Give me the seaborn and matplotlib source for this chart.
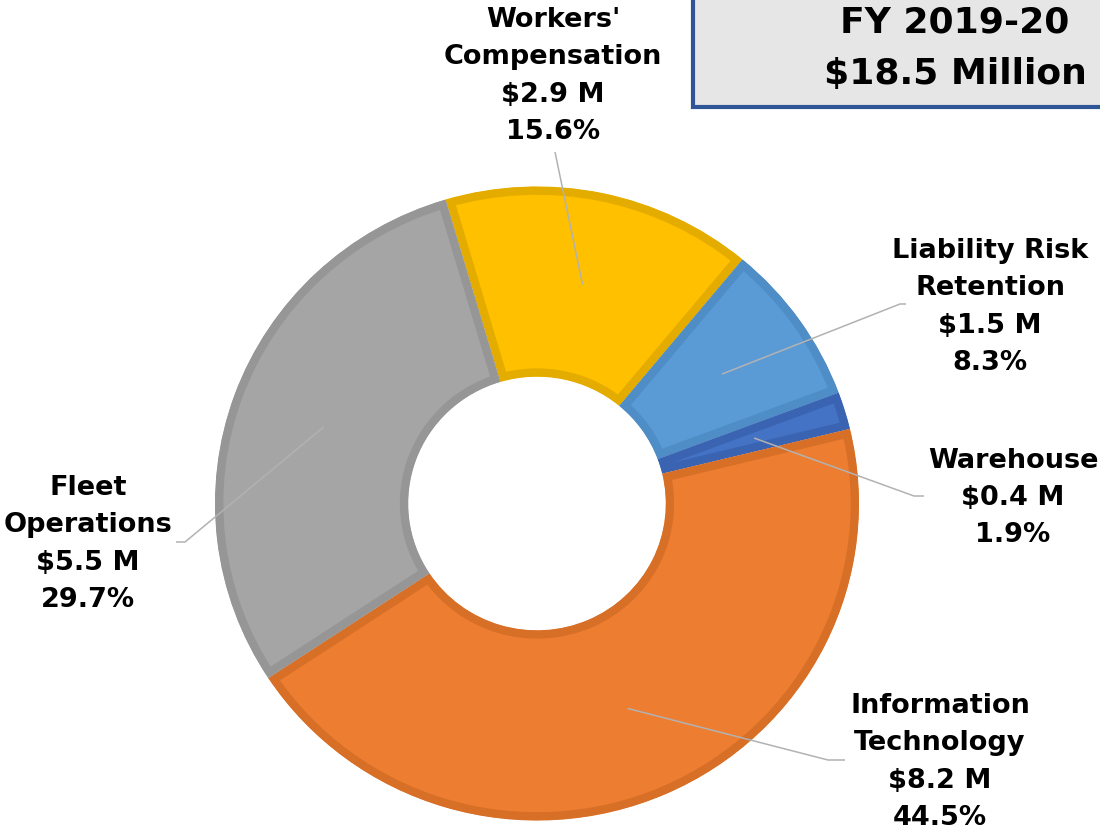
import numpy as np
import matplotlib
matplotlib.use("Agg")
import matplotlib.pyplot as plt
from matplotlib.patches import Rectangle
import seaborn as sns

# ---- data ----
categories = ["Workers'\nCompensation", "Liability Risk\nRetention", "Warehouse",
              "Information\nTechnology", "Fleet\nOperations"]
amounts_m = [2.9, 1.5, 0.4, 8.2, 5.5]
percents = [15.6, 8.3, 1.9, 44.5, 29.7]
title_lines = ["FY 2019-20", "$18.5 Million"]

fill_colors = ["#FFC000", "#5B9BD5", "#4472C4", "#ED7D31", "#A5A5A5"]
edge_colors = ["#E5AC00", "#4F8DC6", "#3A64B2", "#D76F27", "#969696"]

# ---- layout (pixels) ----
W, H, DPI = 1100, 833, 100
CX, CY = 537, 503.5
RX, RY = 322, 317
HOLE = 0.40
START = 106.5

label_pos = [(553, 76), (990, 307), (1013, 498), (940, 762), (88, 544)]
leader_ends = [
    [(555, 152)],
    [(900, 304), (906, 304)],
    [(914, 496), (924, 496)],
    [(828, 760), (845, 760)],
    [(185, 542), (176, 542)],
]

sns.set_theme(style="white")
plt.rcParams['font.family'] = ['DejaVu Sans']

fig = plt.figure(figsize=(W / DPI, H / DPI), dpi=DPI)
fig.patch.set_facecolor("white")

ax = fig.add_axes([0, 0, 1, 1])
palette = sns.color_palette(fill_colors)
wedges, _ = ax.pie(percents, colors=palette, startangle=START, counterclock=False,
                   radius=1.0, wedgeprops=dict(width=1 - HOLE, linewidth=12.0))
for w, ec in zip(wedges, edge_colors):
    w.set_edgecolor(ec)
    w.set_clip_on(True)
    w.set_clip_path(w)
ax.set_aspect('auto')
ax.set_xlim(-CX / RX, (W - CX) / RX)
ax.set_ylim((CY - H) / RY, CY / RY)
ax.axis('off')

ov = fig.add_axes([0, 0, 1, 1], zorder=3)
ov.set_xlim(0, W)
ov.set_ylim(H, 0)
ov.axis('off')

to_ov = lambda pt: ov.transData.inverted().transform(ax.transData.transform(pt))

r_mid = (1 + HOLE) / 2 + 0.005
for i, w in enumerate(wedges):
    th = np.deg2rad((w.theta1 + w.theta2) / 2)
    sx, sy = to_ov((r_mid * np.cos(th), r_mid * np.sin(th)))
    pts = [(sx, sy)] + leader_ends[i]
    xs, ys = zip(*pts)
    ov.plot(xs, ys, color="#B2B2B2", lw=1.1, solid_capstyle='butt', zorder=4)
    txt = f"{categories[i]}\n${amounts_m[i]:.1f} M\n{percents[i]:.1f}%"
    ov.text(label_pos[i][0], label_pos[i][1], txt, ha='center', va='center',
            multialignment='center', fontsize=19.5, fontweight='bold',
            linespacing=1.57, color="black", zorder=5)

ov.add_patch(Rectangle((693, -20), 450, 127, facecolor="#E7E6E6",
                       edgecolor="#2F5597", lw=3, zorder=6))
ov.text(955, 48.5, "\n".join(title_lines), ha='center', va='center',
        multialignment='center', fontsize=26, fontweight='bold',
        linespacing=1.65, color="black", zorder=7)

fig.savefig("out.png", dpi=DPI)
